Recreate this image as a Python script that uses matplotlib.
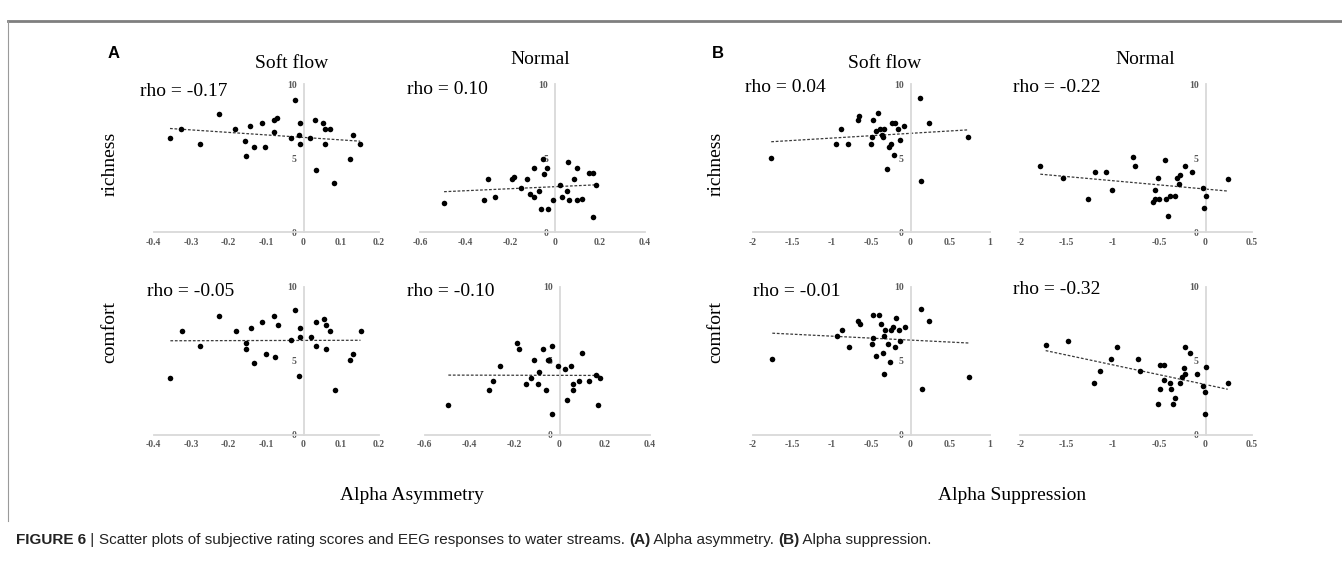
import numpy as np
import matplotlib
matplotlib.use("Agg")
import matplotlib.pyplot as plt

plt.rcParams['font.family'] = ['Liberation Serif', 'DejaVu Serif']

W, H = 1342, 565

# ---------------- data ----------------
# A: Alpha Asymmetry
a_soft_rich_x = [-0.356, -0.326, -0.276, -0.225, -0.182, -0.155, -0.154, -0.142, -0.132, -0.111,
                 -0.102, -0.079, -0.070, -0.078, -0.033, -0.023, -0.010, -0.012, -0.010, 0.017,
                 0.031, 0.033, 0.053, 0.058, 0.070, 0.057, 0.082, 0.124, 0.131, 0.151]
a_soft_rich_y = [6.33, 6.94, 5.95, 7.95, 6.94, 6.15, 5.14, 7.16, 5.74, 7.34,
                 5.74, 7.55, 7.73, 6.76, 6.35, 8.94, 7.34, 6.55, 5.95, 6.35,
                 7.55, 4.17, 7.34, 6.94, 6.94, 5.95, 3.34, 4.95, 6.55, 5.95]

a_norm_rich_x = [-0.493, -0.316, -0.296, -0.267, -0.193, -0.184, -0.153, -0.126, -0.113, -0.095,
                 -0.092, -0.071, -0.061, -0.052, -0.048, -0.034, -0.031, -0.009, 0.022, 0.030,
                 0.052, 0.058, 0.061, 0.086, 0.096, 0.096, 0.120, 0.150, 0.170, 0.180, 0.170]
a_norm_rich_y = [1.94, 2.16, 3.56, 2.36, 3.56, 3.72, 2.95, 3.56, 2.55, 2.36,
                 4.35, 2.77, 1.55, 4.95, 3.94, 4.35, 1.55, 2.16, 3.15, 2.36,
                 2.77, 4.75, 2.16, 3.56, 4.35, 2.16, 2.20, 4.00, 4.00, 3.20, 1.00]

a_soft_comf_x = [-0.355, -0.325, -0.275, -0.225, -0.180, -0.154, -0.153, -0.141, -0.132, -0.111,
                 -0.101, -0.078, -0.076, -0.068, -0.033, -0.022, -0.009, -0.009, -0.011, 0.019,
                 0.032, 0.034, 0.055, 0.061, 0.059, 0.071, 0.084, 0.125, 0.132, 0.152]
a_soft_comf_y = [3.81, 7.01, 6.01, 8.02, 7.01, 6.22, 5.81, 7.19, 4.82, 7.61,
                 5.43, 8.02, 5.23, 7.41, 6.42, 8.40, 7.19, 6.62, 3.99, 6.62,
                 7.61, 6.01, 7.82, 7.41, 5.81, 7.01, 3.02, 5.03, 5.43, 7.01]

a_norm_comf_x = [-0.494, -0.315, -0.296, -0.264, -0.190, -0.181, -0.150, -0.125, -0.113, -0.094,
                 -0.090, -0.072, -0.059, -0.051, -0.045, -0.033, -0.032, -0.008, 0.023, 0.032,
                 0.051, 0.059, 0.060, 0.085, 0.100, 0.130, 0.160, 0.180, 0.170]
a_norm_comf_y = [2.01, 3.00, 3.61, 4.62, 6.22, 5.81, 3.41, 3.81, 5.03, 3.41,
                 4.22, 5.81, 3.00, 5.03, 5.03, 6.01, 1.38, 4.62, 4.42, 2.36,
                 4.62, 3.41, 3.00, 3.61, 5.50, 3.60, 4.00, 3.80, 2.00]

# B: Alpha Suppression
b_soft_rich_x = [-1.763, -0.941, -0.886, -0.797, -0.667, -0.654, -0.506, -0.485, -0.481, -0.443,
                 -0.409, -0.380, -0.358, -0.350, -0.333, -0.300, -0.274, -0.249, -0.236, -0.194,
                 -0.203, -0.152, -0.139, -0.076, 0.122, 0.127, 0.228, 0.725]
b_soft_rich_y = [4.97, 5.97, 6.99, 5.97, 7.57, 7.82, 5.97, 6.39, 7.57, 6.81,
                 8.03, 6.99, 6.58, 6.39, 6.99, 4.24, 5.74, 5.95, 7.37, 7.37,
                 5.17, 6.99, 6.19, 7.16, 9.04, 3.43, 7.37, 6.39]

b_norm_rich_x = [-1.784, -1.542, -1.265, -1.197, -1.078, -1.013, -0.783, -0.765, -0.570, -0.545,
                 -0.542, -0.502, -0.509, -0.441, -0.427, -0.405, -0.387, -0.329, -0.304, -0.279,
                 -0.290, -0.225, -0.149, -0.030, 0.000, -0.020, 0.240]
b_norm_rich_y = [4.45, 3.67, 2.25, 4.05, 4.05, 2.86, 5.07, 4.44, 2.05, 2.86,
                 2.25, 2.25, 3.67, 4.84, 2.25, 1.08, 2.45, 2.45, 3.67, 3.85,
                 3.26, 4.45, 4.05, 3.00, 2.40, 1.60, 3.60]

b_soft_comf_x = [-1.749, -0.927, -0.871, -0.783, -0.661, -0.643, -0.491, -0.479, -0.475, -0.433,
                 -0.395, -0.373, -0.348, -0.339, -0.339, -0.327, -0.289, -0.263, -0.243, -0.226,
                 -0.192, -0.184, -0.142, -0.129, -0.066, 0.133, 0.142, 0.238, 0.737]
b_soft_comf_y = [5.09, 6.69, 7.09, 5.90, 7.70, 7.50, 6.11, 8.11, 6.51, 5.30,
                 8.11, 7.50, 5.50, 4.10, 6.69, 7.09, 6.11, 4.89, 7.09, 7.30,
                 5.90, 7.91, 7.09, 6.31, 7.30, 8.49, 3.09, 7.70, 3.90]

b_norm_comf_x = [-1.726, -1.488, -1.207, -1.143, -1.021, -0.959, -0.726, -0.711, -0.516, -0.491,
                 -0.491, -0.448, -0.451, -0.387, -0.369, -0.329, -0.351, -0.275, -0.250, -0.236,
                 -0.225, -0.218, -0.167, -0.092, 0.000, -0.030, -0.010, -0.010, 0.240]
b_norm_comf_y = [6.08, 6.31, 3.47, 4.28, 5.09, 5.90, 5.09, 4.28, 2.07, 3.07,
                 4.69, 4.69, 3.70, 3.47, 3.07, 2.48, 2.07, 3.47, 3.90, 4.51,
                 4.10, 5.90, 5.50, 4.10, 4.60, 3.30, 2.90, 1.40, 3.50]

rho_labels = ["rho = -0.17", "rho = 0.10", "rho = 0.04", "rho = -0.22",
              "rho = -0.05", "rho = -0.10", "rho = -0.01", "rho = -0.32"]

asym_ticks = [-0.4, -0.3, -0.2, -0.1, 0, 0.1, 0.2]
asym_ticklabels = ["-0.4", "-0.3", "-0.2", "-0.1", "0", "0.1", "0.2"]
asym_norm_ticks = [-0.6, -0.4, -0.2, 0, 0.2, 0.4]
asym_norm_ticklabels = ["-0.6", "-0.4", "-0.2", "0", "0.2", "0.4"]
supp_ticks = [-2, -1.5, -1, -0.5, 0, 0.5, 1]
supp_ticklabels = ["-2", "-1.5", "-1", "-0.5", "0", "0.5", "1"]
supp_norm_ticks = [-2, -1.5, -1, -0.5, 0, 0.5]
supp_norm_ticklabels = ["-2", "-1.5", "-1", "-0.5", "0", "0.5"]
y_ticks = [0, 5, 10]

# ---------------- figure ----------------
fig = plt.figure(figsize=(W / 100, H / 100), dpi=100)


def px_axes(x0, x1, ytop, ybot):
    return fig.add_axes([x0 / W, 1 - ybot / H, (x1 - x0) / W, (ybot - ytop) / H])


def ftext(x, y, s, **kw):
    return fig.text(x / W, 1 - y / H, s, **kw)


def draw_panel(ax, x, y, ticks, ticklabels):
    x = np.asarray(x)
    y = np.asarray(y)
    ax.set_xlim(ticks[0], ticks[-1])
    ax.set_ylim(0, 10)
    ax.patch.set_alpha(0)
    for s in ("top", "right"):
        ax.spines[s].set_visible(False)
    ax.spines["left"].set_position(("data", 0))
    for s in ("left", "bottom"):
        ax.spines[s].set_color("#d9d9d9")
        ax.spines[s].set_linewidth(1.3)
    ax.set_xticks(ticks)
    ax.set_xticklabels(ticklabels)
    ax.set_yticks(y_ticks)
    ax.set_yticklabels([str(v) for v in y_ticks])
    ax.tick_params(axis="both", length=0, labelsize=7, labelcolor="#595959")
    ax.tick_params(axis="x", pad=4)
    ax.tick_params(axis="y", pad=5)
    for lab in ax.get_xticklabels() + ax.get_yticklabels():
        lab.set_fontweight("bold")
    ax.scatter(x, y, s=16, c="black", linewidths=0, zorder=3, clip_on=False)
    m, b = np.polyfit(x, y, 1)
    xx = np.array([x.min(), x.max()])
    ax.plot(xx, m * xx + b, color="#3a3a3a", lw=0.9, ls=(0, (2.2, 1.4)), zorder=2)


top_y = (84, 232)
bot_y = (286.7, 434.7)

panels = [
    ((153.5, 378.5), top_y, a_soft_rich_x, a_soft_rich_y, asym_ticks, asym_ticklabels, (140, 91)),
    ((420, 645), top_y, a_norm_rich_x, a_norm_rich_y, asym_norm_ticks, asym_norm_ticklabels, (407, 90)),
    ((752.5, 989.5), top_y, b_soft_rich_x, b_soft_rich_y, supp_ticks, supp_ticklabels, (745, 88)),
    ((1020.3, 1251.8), top_y, b_norm_rich_x, b_norm_rich_y, supp_norm_ticks, supp_norm_ticklabels, (1013, 88)),
    ((153.5, 378.5), bot_y, a_soft_comf_x, a_soft_comf_y, asym_ticks, asym_ticklabels, (147, 292)),
    ((424.5, 649.5), bot_y, a_norm_comf_x, a_norm_comf_y, asym_norm_ticks, asym_norm_ticklabels, (407, 292)),
    ((752.5, 989.5), bot_y, b_soft_comf_x, b_soft_comf_y, supp_ticks, supp_ticklabels, (753, 292)),
    ((1020.3, 1251.8), bot_y, b_norm_comf_x, b_norm_comf_y, supp_norm_ticks, supp_norm_ticklabels, (1013, 290)),
]

for i, (xs, ys, dx, dy, tk, tl, rp) in enumerate(panels):
    ax = px_axes(xs[0], xs[1], ys[0], ys[1])
    draw_panel(ax, dx, dy, tk, tl)
    ftext(rp[0], rp[1], rho_labels[i], fontsize=14, ha="left", va="center", color="black")

# column titles and panel letters
ftext(114, 53, "A", fontsize=12, fontweight="bold", family=["Liberation Sans", "DejaVu Sans"],
      ha="center", va="center")
ftext(718, 53, "B", fontsize=12, fontweight="bold", family=["Liberation Sans", "DejaVu Sans"],
      ha="center", va="center")
ftext(292, 64, "Soft flow", fontsize=14, ha="center", va="center")
ftext(540, 60, "Normal", fontsize=14, ha="center", va="center")
ftext(885, 64, "Soft flow", fontsize=14, ha="center", va="center")
ftext(1145, 60, "Normal", fontsize=14, ha="center", va="center")

# row labels
for xpos in (110, 716):
    ftext(xpos, 164, "richness", fontsize=14, rotation=90, ha="center", va="center")
    ftext(xpos, 332, "comfort", fontsize=14, rotation=90, ha="center", va="center")

# x-axis titles
ftext(412, 495, "Alpha Asymmetry", fontsize=14, ha="center", va="center")
ftext(1012, 495, "Alpha Suppression", fontsize=14, ha="center", va="center")

# frame lines
fig.add_artist(plt.Line2D([8 / W, 1], [1 - 21 / H, 1 - 21 / H], color="#7f7f7f", lw=2.0))
fig.add_artist(plt.Line2D([8 / W, 8 / W], [1 - 21 / H, 1 - 521 / H], color="#9a9a9a", lw=0.8))

# caption
cap_parts = [("FIGURE 6", "bold"), (" | ", "normal"),
             ("Scatter plots of subjective rating scores and EEG responses to water streams. ", "normal"),
             ("(A)", "bold"), (" Alpha asymmetry. ", "normal"), ("(B)", "bold"), (" Alpha suppression.", "normal")]
fig.canvas.draw()
renderer = fig.canvas.get_renderer()
xcur = 16
for s, wgt in cap_parts:
    t = ftext(xcur, 540, s, fontsize=11, fontweight=wgt, family=["Liberation Sans", "DejaVu Sans"],
              ha="left", va="center", color="#222222")
    bb = t.get_window_extent(renderer=renderer)
    xcur += bb.width

fig.savefig("out.png", dpi=100)
